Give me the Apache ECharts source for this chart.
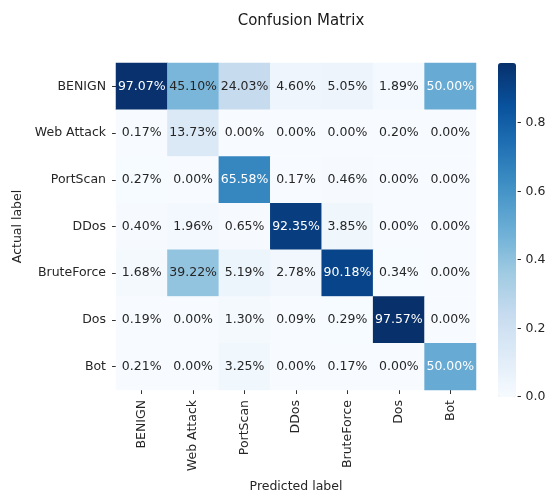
<!DOCTYPE html>
<html>
<head>
<meta charset="utf-8">
<script src="https://cdn.jsdelivr.net/npm/echarts@6/dist/echarts.min.js"></script>
<style>
html,body{margin:0;padding:0;background:#fff;}
#chart{width:550px;height:498px;}
</style>
</head>
<body>
<div id="chart"></div>
<script>
const predictedLabels = ['BENIGN','Web Attack','PortScan','DDos','BruteForce','Dos','Bot'];
const actualLabels = ['BENIGN','Web Attack','PortScan','DDos','BruteForce','Dos','Bot'];
// rows: actual, columns: predicted (fractions)
const rowBENIGN     = [0.9707, 0.4510, 0.2403, 0.0460, 0.0505, 0.0189, 0.5000];
const rowWebAttack  = [0.0017, 0.1373, 0.0000, 0.0000, 0.0000, 0.0020, 0.0000];
const rowPortScan   = [0.0027, 0.0000, 0.6558, 0.0017, 0.0046, 0.0000, 0.0000];
const rowDDos       = [0.0040, 0.0196, 0.0065, 0.9235, 0.0385, 0.0000, 0.0000];
const rowBruteForce = [0.0168, 0.3922, 0.0519, 0.0278, 0.9018, 0.0034, 0.0000];
const rowDos        = [0.0019, 0.0000, 0.0130, 0.0009, 0.0029, 0.9757, 0.0000];
const rowBot        = [0.0021, 0.0000, 0.0325, 0.0000, 0.0017, 0.0000, 0.5000];
const colorbarTicks = [0.0, 0.2, 0.4, 0.6, 0.8];

const rows = [rowBENIGN,rowWebAttack,rowPortScan,rowDDos,rowBruteForce,rowDos,rowBot];
const vmax = Math.max(...rows.flat());
const blues = ['#f7fbff','#deebf7','#c6dbef','#9ecae1','#6baed6','#4292c6','#2171b5','#08519c','#08306b'];

const data = [];
rows.forEach((r, yi) => r.forEach((v, xi) => {
  data.push({value:[xi, yi, v], label:{color: v/vmax > 0.49 ? '#ffffff' : '#262626'}});
}));

const FONT = 'DejaVu Sans';
const FS = 12.5;
const chart = echarts.init(document.getElementById('chart'), null, {renderer:'canvas'});
chart.setOption({
  animation:false,
  backgroundColor:'#fff',
  textStyle:{fontFamily:FONT},
  title:{text:'Confusion Matrix', left:296, top:9, textAlign:'center',
    textStyle:{fontFamily:FONT, fontSize:15, fontWeight:'normal', color:'#1a1a1a'}},
  grid:[
    {left:116, top:63, width:360, height:334},
    {left:498, top:63, width:18, height:334}
  ],
  xAxis:[
    {type:'category', gridIndex:0, data:predictedLabels, position:'bottom',
     axisLine:{show:false},
     axisTick:{show:true, alignWithLabel:true, length:4, lineStyle:{color:'#333'}},
     axisLabel:{rotate:90, margin:10, fontFamily:FONT, fontSize:FS, color:'#262626', interval:0},
     splitLine:{show:false},
     name:'Predicted label', nameLocation:'middle', nameGap:90,
     nameTextStyle:{fontFamily:FONT, fontSize:FS, color:'#262626'}},
    {type:'value', gridIndex:1, show:false, min:0, max:1}
  ],
  yAxis:[
    {type:'category', gridIndex:0, data:actualLabels, inverse:true,
     axisLine:{show:false},
     axisTick:{show:true, alignWithLabel:true, length:4, lineStyle:{color:'#333'}},
     axisLabel:{margin:10, fontFamily:FONT, fontSize:FS, color:'#262626', interval:0},
     splitLine:{show:false},
     name:'Actual label', nameLocation:'middle', nameGap:81, nameRotate:90,
     nameTextStyle:{fontFamily:FONT, fontSize:FS, color:'#262626'}},
    {type:'value', gridIndex:1, position:'right', min:0, max:vmax, interval:0.2,
     axisLine:{show:false},
     axisTick:{show:false},
     axisLabel:{margin:1, fontFamily:FONT, fontSize:FS, color:'#262626', showMaxLabel:false,
       formatter: v => colorbarTicks.some(t => Math.abs(t - v) < 1e-6) ? '- ' + v.toFixed(1) : ''},
     splitLine:{show:false}}
  ],
  visualMap:{
    type:'continuous', min:0, max:vmax, seriesIndex:0, calculable:false,
    left:498, top:63, itemWidth:18, itemHeight:334, padding:0, orient:'vertical',
    showLabel:false, hoverLink:false,
    inRange:{color:blues}
  },
  series:[{
    type:'heatmap', xAxisIndex:0, yAxisIndex:0, data:data,
    label:{show:true, fontFamily:FONT, fontSize:FS,
      formatter: p => (p.value[2]*100).toFixed(2) + '%'},
    itemStyle:{borderWidth:0},
    emphasis:{disabled:true}
  }]
});
</script>
</body>
</html>
